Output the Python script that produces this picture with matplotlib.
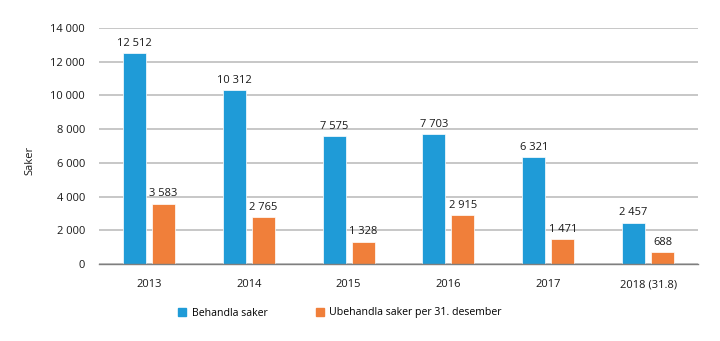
import matplotlib.pyplot as plt
import numpy as np
from matplotlib.patches import Patch

years = ["2013", "2014", "2015", "2016", "2017", "2018 (31.8)"]
behandla = [12512, 10312, 7575, 7703, 6321, 2457]
ubehandla = [3583, 2765, 1328, 2915, 1471, 688]
yticks = [0, 2000, 4000, 6000, 8000, 10000, 12000, 14000]

BLUE = "#1f9bd7"
ORANGE = "#f07f3a"

plt.rcParams['font.family'] = ['Open Sans', 'DejaVu Sans']


def fmt(v):
    return f"{v:,}".replace(",", " ")


fig = plt.figure(figsize=(7.2, 3.41), dpi=100)
ax = fig.add_axes([99 / 720, 1 - 264 / 341, (698 - 99) / 720, (264 - 28) / 341])

x = np.arange(len(years))
w = 0.23
off = 0.145
b1 = ax.bar(x - off, behandla, w, color=BLUE, edgecolor="white", linewidth=0.5, zorder=3)
b2 = ax.bar(x + off, ubehandla, w, color=ORANGE, edgecolor="white", linewidth=0.5, zorder=3)

for rect, v in zip(b1, behandla):
    ax.text(rect.get_x() + rect.get_width() / 2, v + 250, fmt(v),
            ha="center", va="bottom", fontsize=8, color="#1a1a1a")
for rect, v in zip(b2, ubehandla):
    ax.text(rect.get_x() + rect.get_width() / 2, v + 250, fmt(v),
            ha="center", va="bottom", fontsize=8, color="#1a1a1a")

ax.set_xlim(-0.5, len(years) - 0.5)
ax.set_ylim(0, 14000)
ax.set_yticks(yticks)
ax.set_yticklabels([fmt(t) for t in yticks], fontsize=8, color="#1a1a1a")
ax.set_xticks(x)
ax.set_xticklabels(years, fontsize=8, color="#1a1a1a")
ax.tick_params(length=0, pad=10)
ax.tick_params(axis="x", pad=11)
ax.grid(axis="y", color="#bdbdbd", linewidth=1.2, zorder=0)
for s in ["top", "right", "left"]:
    ax.spines[s].set_visible(False)
ax.spines["bottom"].set_color("#7f7f7f")
ax.spines["bottom"].set_linewidth(1.0)
ax.spines["bottom"].set_zorder(4)

fig.text(30 / 720, 1 - 160 / 341, "Saker", rotation=90, ha="center", va="center",
         fontsize=8, color="#1a1a1a")

handles = [Patch(color=BLUE, label="Behandla saker"),
           Patch(color=ORANGE, label="Ubehandla saker per 31. desember")]
fig.legend(handles=handles, loc="center", bbox_to_anchor=(340 / 720, 1 - 313 / 341),
           ncol=2, frameon=False, fontsize=7.6, handlelength=0.75, handleheight=0.75,
           handletextpad=0.5, columnspacing=4.6)

fig.savefig("out.png", dpi=100)
